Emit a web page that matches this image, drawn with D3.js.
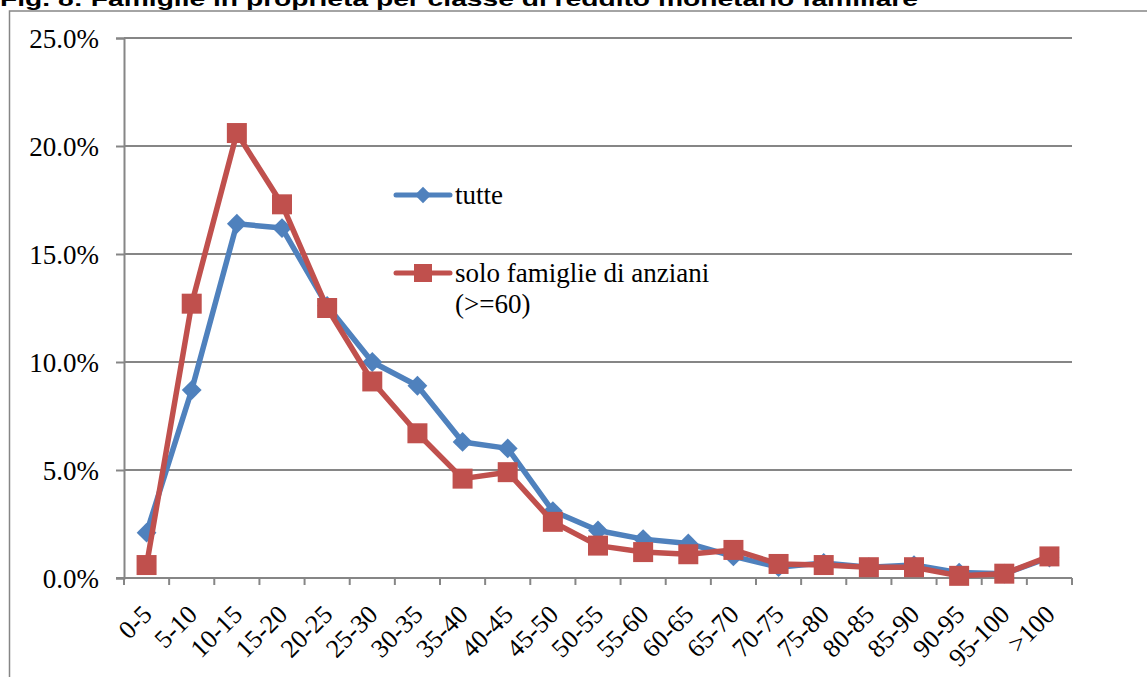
<!DOCTYPE html>
<html>
<head>
<meta charset="utf-8">
<script src="https://cdn.jsdelivr.net/npm/d3@7"></script>
<style>
  html, body { margin: 0; padding: 0; background: #fff; }
  svg { display: block; }
</style>
</head>
<body>
<svg id="chart" width="1147" height="677"></svg>
<script>
// Income classes (thousand euro)
const categories = ["0-5", "5-10", "10-15", "15-20", "20-25", "25-30", "30-35", "35-40", "40-45", "45-50",
  "50-55", "55-60", "60-65", "65-70", "70-75", "75-80", "80-85", "85-90", "90-95", "95-100", ">100"];

// Share of owner households per class (%)
const tutte = [2.1, 8.7, 16.4, 16.2, 12.6, 10.0, 8.9, 6.3, 6.0, 3.1,
  2.2, 1.8, 1.6, 1.0, 0.5, 0.7, 0.5, 0.6, 0.25, 0.2, 0.95];
const anziani = [0.6, 12.7, 20.6, 17.3, 12.5, 9.1, 6.7, 4.6, 4.9, 2.6,
  1.5, 1.2, 1.1, 1.3, 0.65, 0.6, 0.5, 0.5, 0.1, 0.2, 1.0];

const yTicks = [0, 5, 10, 15, 20, 25];
const seriesNames = ["tutte", "solo famiglie di anziani", "(>=60)"];
const title = "Fig. 8: Famiglie in proprietà per classe di reddito monetario familiare";

const BLUE = "#4f81bd", RED = "#c0504d", GRID = "#868686";
const serif = "'Liberation Serif', 'DejaVu Serif', serif";

const svg = d3.select("#chart");

// Title (runs off the top edge of the page)
svg.append("text")
  .attr("x", 0).attr("y", 6)
  .attr("font-family", "'Liberation Sans', Arial, sans-serif")
  .attr("font-weight", "bold")
  .attr("font-size", 21)
  .attr("textLength", 918)
  .attr("lengthAdjust", "spacingAndGlyphs")
  .attr("fill", "#000")
  .text(title);

// Chart frame
svg.append("rect")
  .attr("x", 9.5).attr("y", 11)
  .attr("width", 1300).attr("height", 1000)
  .attr("fill", "none").attr("stroke", GRID).attr("stroke-width", 1.5);

const x = d3.scaleBand().domain(categories).range([124, 1072]).padding(0);
const y = d3.scaleLinear().domain([0, 25]).range([578, 38]);
const cx = c => x(c) + x.bandwidth() / 2;

// Horizontal gridlines
svg.append("g").selectAll("line").data(yTicks.filter(d => d > 0)).join("line")
  .attr("x1", x.range()[0]).attr("x2", x.range()[1])
  .attr("y1", d => y(d)).attr("y2", d => y(d))
  .attr("stroke", GRID).attr("stroke-width", 2);

// Y axis
const yAxis = svg.append("g")
  .attr("transform", `translate(${x.range()[0]},0)`)
  .call(d3.axisLeft(y).tickValues(yTicks).tickSize(8).tickPadding(17)
    .tickFormat(d => d.toFixed(1) + "%"));
yAxis.select(".domain").attr("stroke", GRID).attr("stroke-width", 2);
yAxis.selectAll(".tick line").attr("stroke", GRID).attr("stroke-width", 2);
yAxis.selectAll(".tick text")
  .attr("font-family", serif).attr("font-size", 27).attr("fill", "#000")
  .attr("dy", "0.35em");

// X axis line with ticks at class boundaries
const bounds = categories.map(c => x(c)).concat([x.range()[1]]);
svg.append("line")
  .attr("x1", x.range()[0] - 8).attr("x2", x.range()[1])
  .attr("y1", y(0)).attr("y2", y(0))
  .attr("stroke", GRID).attr("stroke-width", 2);
svg.append("g").selectAll("line").data(bounds).join("line")
  .attr("x1", d => d).attr("x2", d => d)
  .attr("y1", y(0)).attr("y2", y(0) + 7)
  .attr("stroke", GRID).attr("stroke-width", 2);

// Rotated class labels
svg.append("g").selectAll("text").data(categories).join("text")
  .attr("transform", d => `translate(${cx(d) + 7},${y(0) + 38}) rotate(-45)`)
  .attr("text-anchor", "end")
  .attr("font-family", serif).attr("font-size", 26).attr("fill", "#000")
  .text(d => d);

// Series lines and markers
const line = d3.line().x((d, i) => cx(categories[i])).y(d => y(d));

function drawSeries(values, color, shape, size) {
  const g = svg.append("g");
  g.append("path").datum(values)
    .attr("d", line)
    .attr("fill", "none").attr("stroke", color)
    .attr("stroke-width", 5.5).attr("stroke-linejoin", "round");
  g.selectAll("path.m").data(values).join("path")
    .attr("class", "m")
    .attr("transform", (d, i) => `translate(${cx(categories[i])},${y(d)})`)
    .attr("d", d3.symbol().type(shape).size(size))
    .attr("fill", color);
}
drawSeries(tutte, BLUE, d3.symbolDiamond2, 250);
drawSeries(anziani, RED, d3.symbolSquare, 400);

// Legend
function legendItem(ly, color, shape, size) {
  svg.append("line")
    .attr("x1", 396).attr("x2", 450).attr("y1", ly).attr("y2", ly)
    .attr("stroke", color).attr("stroke-width", 5).attr("stroke-linecap", "round");
  svg.append("path")
    .attr("transform", `translate(423,${ly})`)
    .attr("d", d3.symbol().type(shape).size(size))
    .attr("fill", color);
}
legendItem(195, BLUE, d3.symbolDiamond2, 170);
legendItem(273, RED, d3.symbolSquare, 324);

const lt = svg.append("g")
  .attr("font-family", serif).attr("font-size", 27).attr("fill", "#000");
lt.append("text").attr("x", 455).attr("y", 204).text(seriesNames[0]);
lt.append("text").attr("x", 455).attr("y", 282).text(seriesNames[1]);
lt.append("text").attr("x", 455).attr("y", 313).text(seriesNames[2]);
</script>
</body>
</html>
